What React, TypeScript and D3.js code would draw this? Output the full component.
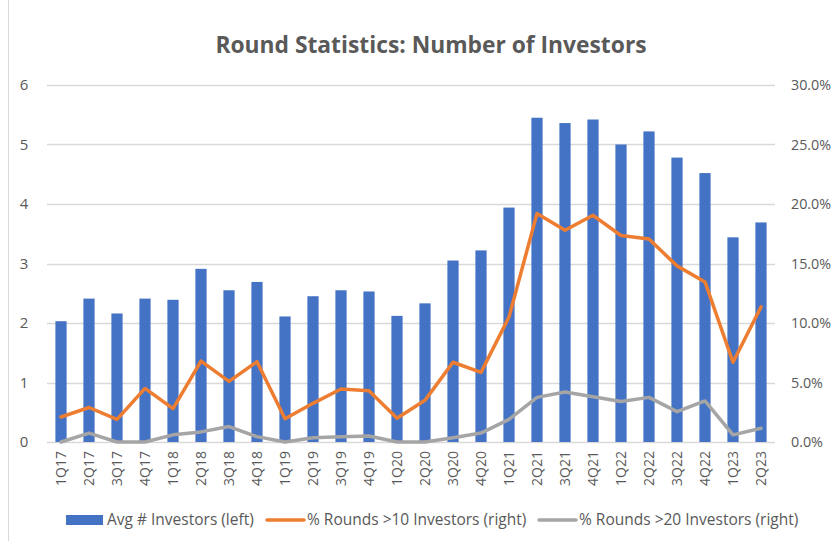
import { useEffect, useRef } from "react";
import * as d3 from "d3";

const WIDTH = 833;
const HEIGHT = 541;
const MARGIN = { top: 85, right: 58, bottom: 99, left: 47 };
const FONT = "'Open Sans', sans-serif";
const TEXT_COLOR = "#595959";

const QUARTERS = [
  "1Q17", "2Q17", "3Q17", "4Q17", "1Q18", "2Q18", "3Q18", "4Q18", "1Q19", "2Q19",
  "3Q19", "4Q19", "1Q20", "2Q20", "3Q20", "4Q20", "1Q21", "2Q21", "3Q21", "4Q21",
  "1Q22", "2Q22", "3Q22", "4Q22", "1Q23", "2Q23",
];

const AVG_INVESTORS = [
  2.03, 2.41, 2.16, 2.41, 2.39, 2.91, 2.55, 2.69, 2.11, 2.45,
  2.55, 2.53, 2.12, 2.33, 3.05, 3.22, 3.94, 5.45, 5.36, 5.42,
  5.0, 5.22, 4.78, 4.52, 3.44, 3.69,
];

const PCT_OVER_10 = [
  2.1, 2.9, 1.9, 4.5, 2.8, 6.8, 5.1, 6.75, 1.95, 3.25,
  4.45, 4.3, 2.0, 3.5, 6.7, 5.85, 10.5, 19.2, 17.8, 19.05,
  17.35, 17.05, 14.8, 13.45, 6.7, 11.35,
];

const PCT_OVER_20 = [
  0.0, 0.75, 0.0, 0.0, 0.6, 0.85, 1.3, 0.45, 0.0, 0.35,
  0.45, 0.5, 0.0, 0.0, 0.35, 0.75, 1.9, 3.75, 4.2, 3.8,
  3.4, 3.75, 2.55, 3.45, 0.6, 1.15,
];

const LEFT_TICKS = [0, 1, 2, 3, 4, 5, 6];
const RIGHT_TICKS = [0, 5, 10, 15, 20, 25, 30];

const LEGEND = [
  { label: "Avg # Investors (left)", color: "#4472C4", kind: "bar" },
  { label: "% Rounds >10 Investors (right)", color: "#ED7D31", kind: "line" },
  { label: "% Rounds >20 Investors (right)", color: "#A5A5A5", kind: "line" },
];

export default function App() {
  const svgRef = useRef<SVGSVGElement>(null);

  useEffect(() => {
    document.body.style.margin = "0";
    const svgElement = svgRef.current;
    if (!svgElement) return;

    const svg = d3.select(svgElement);
    svg.selectAll("*").remove();

    const innerWidth = WIDTH - MARGIN.left - MARGIN.right;
    const innerHeight = HEIGHT - MARGIN.top - MARGIN.bottom;

    svg.append("rect").attr("width", WIDTH).attr("height", HEIGHT).attr("fill", "#fff");
    // frame edge of the original chart box
    svg.append("line")
      .attr("x1", 8.5).attr("x2", 8.5).attr("y1", 0).attr("y2", HEIGHT)
      .attr("stroke", "#d9d9d9").attr("stroke-width", 1);

    svg.append("text")
      .attr("x", 431)
      .attr("y", 53)
      .attr("text-anchor", "middle")
      .attr("font-family", FONT)
      .attr("font-weight", "bold")
      .attr("font-size", 22.8)
      .attr("fill", TEXT_COLOR)
      .text("Round Statistics: Number of Investors");

    const chart = svg.append("g").attr("transform", `translate(${MARGIN.left},${MARGIN.top})`);

    const x = d3.scaleBand().domain(QUARTERS).range([0, innerWidth]).paddingInner(0.6).paddingOuter(0.3);
    const yLeft = d3.scaleLinear().domain([0, 6]).range([innerHeight, 0]);
    const yRight = d3.scaleLinear().domain([0, 30]).range([innerHeight, 0]);

    chart.selectAll("line.grid")
      .data(LEFT_TICKS)
      .join("line")
      .attr("class", "grid")
      .attr("x1", 0)
      .attr("x2", innerWidth)
      .attr("y1", (d) => Math.round(yLeft(d)) + 0.5)
      .attr("y2", (d) => Math.round(yLeft(d)) + 0.5)
      .attr("stroke", "#d9d9d9")
      .attr("stroke-width", 1.5);

    chart.selectAll("text.left")
      .data(LEFT_TICKS)
      .join("text")
      .attr("class", "left")
      .attr("x", -23)
      .attr("y", (d) => yLeft(d))
      .attr("dy", "0.35em")
      .attr("text-anchor", "middle")
      .attr("font-family", FONT)
      .attr("font-size", 15)
      .attr("fill", TEXT_COLOR)
      .text((d) => d);

    chart.selectAll("text.right")
      .data(RIGHT_TICKS)
      .join("text")
      .attr("class", "right")
      .attr("x", innerWidth + 16)
      .attr("y", (d) => yRight(d))
      .attr("dy", "0.35em")
      .attr("font-family", FONT)
      .attr("font-size", 14.3)
      .attr("fill", TEXT_COLOR)
      .text((d) => `${d.toFixed(1)}%`);

    chart.selectAll("rect.bar")
      .data(AVG_INVESTORS)
      .join("rect")
      .attr("class", "bar")
      .attr("x", (_, i) => x(QUARTERS[i]) ?? 0)
      .attr("y", (d) => yLeft(d))
      .attr("width", x.bandwidth())
      .attr("height", (d) => innerHeight - yLeft(d))
      .attr("fill", "#4472C4");

    const cx = (i: number) => (x(QUARTERS[i]) ?? 0) + x.bandwidth() / 2;

    const line = d3.line<number>()
      .x((_, i) => cx(i))
      .y((d) => yRight(d));

    chart.append("path")
      .datum(PCT_OVER_20)
      .attr("d", line)
      .attr("fill", "none")
      .attr("stroke", "#A5A5A5")
      .attr("stroke-width", 3.5)
      .attr("stroke-linejoin", "round")
      .attr("stroke-linecap", "round");

    chart.append("path")
      .datum(PCT_OVER_10)
      .attr("d", line)
      .attr("fill", "none")
      .attr("stroke", "#ED7D31")
      .attr("stroke-width", 3.5)
      .attr("stroke-linejoin", "round")
      .attr("stroke-linecap", "round");

    chart.selectAll("text.xlabel")
      .data(QUARTERS)
      .join("text")
      .attr("class", "xlabel")
      .attr("transform", (_, i) => `translate(${cx(i)},${innerHeight + 9}) rotate(-90)`)
      .attr("dy", "0.35em")
      .attr("text-anchor", "end")
      .attr("font-family", FONT)
      .attr("font-size", 14)
      .attr("fill", TEXT_COLOR)
      .text((d) => d);

    const legendX = [66, 265, 537];
    const legend = svg.append("g").attr("transform", `translate(0, 520)`);
    LEGEND.forEach((item, i) => {
      const g = legend.append("g").attr("transform", `translate(${legendX[i]},0)`);
      if (item.kind === "bar") {
        g.append("rect").attr("x", 0).attr("y", -5).attr("width", 37).attr("height", 10).attr("fill", item.color);
      } else {
        g.append("line")
          .attr("x1", 2).attr("x2", 39).attr("y1", 0).attr("y2", 0)
          .attr("stroke", item.color).attr("stroke-width", 3.5).attr("stroke-linecap", "round");
      }
      g.append("text")
        .attr("x", item.kind === "bar" ? 41 : 42)
        .attr("y", 0)
        .attr("dy", "0.35em")
        .attr("font-family", FONT)
        .attr("font-size", 15.5)
        .attr("fill", TEXT_COLOR)
        .text(item.label);
    });
  }, []);

  return (
    <svg
      ref={svgRef}
      width={WIDTH}
      height={HEIGHT}
      role="img"
      aria-label="Round Statistics: Number of Investors"
      style={{ display: "block" }}
    />
  );
}
